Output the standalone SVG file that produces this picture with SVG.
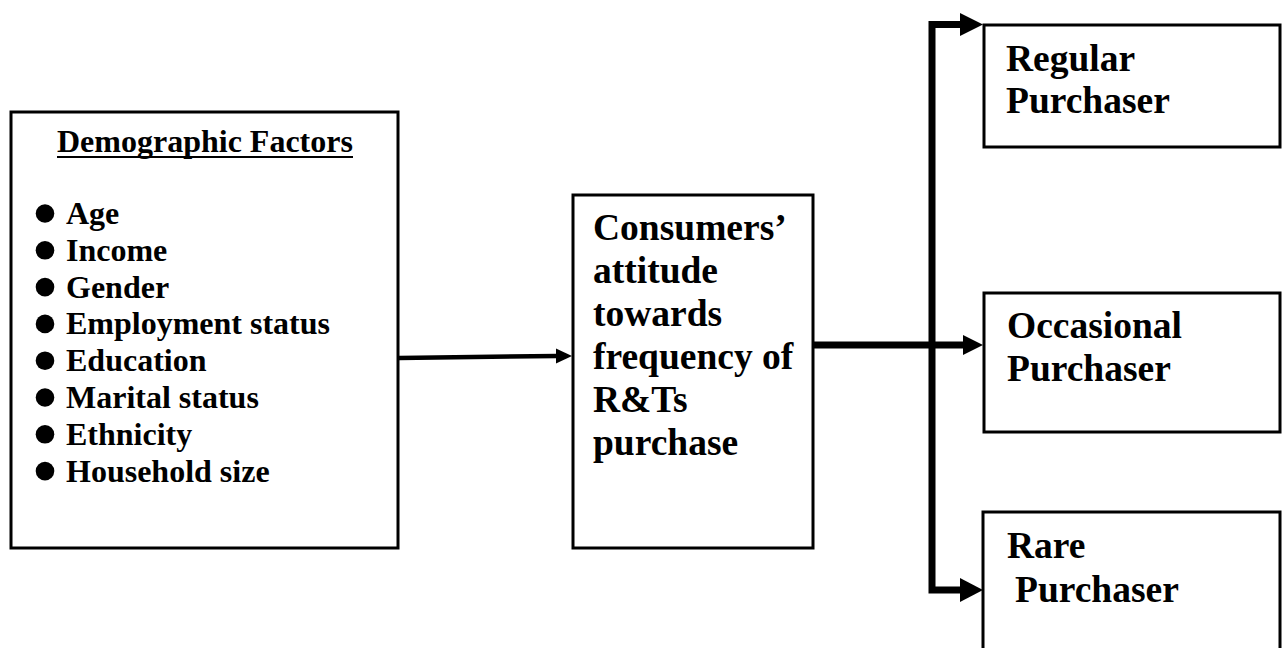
<svg xmlns="http://www.w3.org/2000/svg" width="1282" height="648" viewBox="0 0 1282 648">
<defs>
<style>
.box{fill:#fff;stroke:#000;stroke-width:3}
.t{font-family:"Liberation Serif","Times New Roman",serif;font-weight:bold;fill:#000}
.s{font-size:32px}
.l{font-size:37.5px}
.w{fill:none;stroke:#000;stroke-linejoin:miter;stroke-linecap:butt}
</style>
</defs>
<rect width="1282" height="648" fill="#fff"/>
<g id="demographic">
<rect class="box" x="11" y="112" width="387" height="436"/>
<text class="t s" x="57" y="151.5">Demographic Factors</text>
<line x1="57" y1="157" x2="353" y2="157" stroke="#000" stroke-width="2.2"/>
<g fill="#000">
<circle cx="45" cy="213.5" r="9.3"/>
<circle cx="45" cy="250.3" r="9.3"/>
<circle cx="45" cy="287.1" r="9.3"/>
<circle cx="45" cy="323.9" r="9.3"/>
<circle cx="45" cy="360.7" r="9.3"/>
<circle cx="45" cy="397.5" r="9.3"/>
<circle cx="45" cy="434.3" r="9.3"/>
<circle cx="45" cy="471.1" r="9.3"/>
</g>
<text class="t s" x="66" y="224">Age</text>
<text class="t s" x="66" y="260.8">Income</text>
<text class="t s" x="66" y="297.6">Gender</text>
<text class="t s" x="66" y="334.4">Employment status</text>
<text class="t s" x="66" y="371.2">Education</text>
<text class="t s" x="66" y="408">Marital status</text>
<text class="t s" x="66" y="444.8">Ethnicity</text>
<text class="t s" x="66" y="481.6">Household size</text>
</g>
<g id="attitude">
<rect class="box" x="573" y="195" width="240" height="353"/>
<text class="t l" x="593" y="240">Consumers’</text>
<text class="t l" x="593" y="283">attitude</text>
<text class="t l" x="593" y="326">towards</text>
<text class="t l" x="593" y="369">frequency of</text>
<text class="t l" x="593" y="412">R&amp;Ts</text>
<text class="t l" x="593" y="455">purchase</text>
</g>
<g id="regular">
<rect class="box" x="984" y="25" width="296" height="122" stroke-width="2.6"/>
<text class="t l" x="1006" y="71">Regular</text>
<text class="t l" x="1006" y="113">Purchaser</text>
</g>
<g id="occasional">
<rect class="box" x="984" y="293" width="296" height="139" stroke-width="3.4"/>
<text class="t l" x="1007" y="338">Occasional</text>
<text class="t l" x="1007" y="381">Purchaser</text>
</g>
<g id="rare">
<rect class="box" x="983" y="512" width="297" height="150" stroke-width="2.6"/>
<text class="t l" x="1007" y="558">Rare</text>
<text class="t l" x="1015" y="602">Purchaser</text>
</g>
<g id="connectors">
<path class="w" d="M399 358 L557 356" stroke-width="4.5"/>
<polygon points="556,348.5 572,356 556,363.5" fill="#000"/>
<path class="w" d="M814 345 L964 345" stroke-width="7"/>
<polygon points="963,335 983,345 963,355" fill="#000"/>
<path class="w" d="M961 24.5 L932 24.5 L932 590 L961 590" stroke-width="7"/>
<polygon points="960,13 983,24.5 960,36" fill="#000"/>
<polygon points="960,578 983,590 960,602" fill="#000"/>
</g>
</svg>
